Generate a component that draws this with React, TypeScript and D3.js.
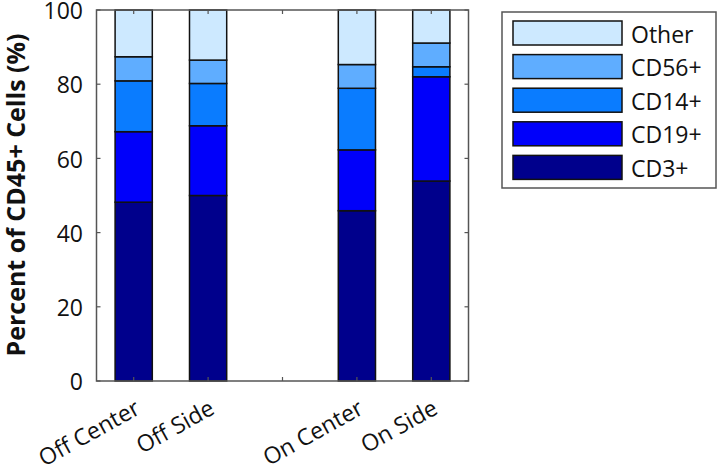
import React from "react";
import * as d3 from "d3";

const categories = ["Off Center", "Off Side", "", "On Center", "On Side"];
const seriesNames = ["CD3+", "CD19+", "CD14+", "CD56+", "Other"];
const seriesColors = ["#00008c", "#0000fa", "#0a7cff", "#5fadff", "#cde9ff"];
const cd3 = [48.2, 50.0, null, 45.9, 53.9];
const cd19 = [19.0, 18.8, null, 16.4, 28.1];
const cd14 = [13.7, 11.4, null, 16.6, 2.7];
const cd56 = [6.5, 6.3, null, 6.4, 6.4];
const other = [12.6, 13.5, null, 14.7, 8.9];
const yTicks = [0, 20, 40, 60, 80, 100];

const W = 720;
const H = 475;
const left = 96.5;
const right = 468.5;
const top = 10;
const bottom = 381;
const FONT = "'Open Sans', 'Noto Sans', sans-serif";

export default function App() {
  const x = d3.scaleBand<string>().domain(categories.map((c, i) => String(i))).range([left, right]).paddingInner(0.5).paddingOuter(0.25);
  const y = d3.scaleLinear().domain([0, 100]).range([bottom, top]);

  const rows = categories.map((c, i) => ({
    key: String(i),
    cat: c,
    "CD3+": cd3[i] ?? 0,
    "CD19+": cd19[i] ?? 0,
    "CD14+": cd14[i] ?? 0,
    "CD56+": cd56[i] ?? 0,
    Other: other[i] ?? 0,
    has: cd3[i] != null,
  }));
  const stack = d3.stack<any>().keys(seriesNames);
  const layers = stack(rows);

  const tickLen = 4;
  const legendRows = [...seriesNames].reverse();
  const legendColors = [...seriesColors].reverse();

  return (
    <svg width={W} height={H} style={{ position: "absolute", left: 0, top: 0, background: "#fff" }}>
      {/* bars */}
      {layers.map((layer, si) => (
        <g key={si}>
          {layer.map((d, i) =>
            rows[i].has ? (
              <rect
                key={i}
                x={x(String(i))!}
                width={x.bandwidth()}
                y={y(d[1])}
                height={y(d[0]) - y(d[1])}
                fill={seriesColors[si]}
                stroke="#111"
                strokeWidth={1.5}
              />
            ) : null
          )}
        </g>
      ))}
      {/* axes box */}
      <rect x={left} y={top} width={right - left} height={bottom - top} fill="none" stroke="#555" strokeWidth={1.5} />
      {/* y ticks */}
      {yTicks.map((t) => (
        <g key={t}>
          <line x1={left} x2={left + tickLen} y1={y(t)} y2={y(t)} stroke="#555" strokeWidth={1.2} />
          <line x1={right} x2={right - tickLen} y1={y(t)} y2={y(t)} stroke="#555" strokeWidth={1.2} />
          <text x={83} y={y(t)} dy="0.4em" textAnchor="end" fontFamily={FONT} fontSize={23} fill="#111">
            {t}
          </text>
        </g>
      ))}
      {/* x ticks */}
      {categories.map((c, i) => {
        const cx = x(String(i))! + x.bandwidth() / 2;
        return (
          <g key={i}>
            <line x1={cx} x2={cx} y1={bottom} y2={bottom - tickLen} stroke="#555" strokeWidth={1.2} />
            <line x1={cx} x2={cx} y1={top} y2={top + tickLen} stroke="#555" strokeWidth={1.2} />
            {c ? (
              <text
                transform={`translate(${cx + 8},${413}) rotate(-29)`}
                textAnchor="end"
                fontFamily={FONT}
                fontSize={23}
                fill="#111"
              >
                {c}
              </text>
            ) : null}
          </g>
        );
      })}
      {/* y label */}
      <text
        transform={`translate(${25},${195}) rotate(-90)`}
        textAnchor="middle"
        fontFamily={FONT}
        fontWeight="bold"
        fontSize={25}
        fill="#111"
      >
        Percent of CD45+ Cells (%)
      </text>
      {/* legend */}
      <rect x={502} y={12} width={214} height={176} fill="#fff" stroke="#555" strokeWidth={1.5} />
      {legendRows.map((name, i) => {
        const ly = 21 + i * 33.6;
        return (
          <g key={name}>
            <rect x={513} y={ly} width={109} height={24} fill={legendColors[i]} stroke="#111" strokeWidth={1.5} />
            <text x={631} y={ly + 12} dy="0.42em" fontFamily={FONT} fontSize={23} fill="#111">
              {name}
            </text>
          </g>
        );
      })}
    </svg>
  );
}
